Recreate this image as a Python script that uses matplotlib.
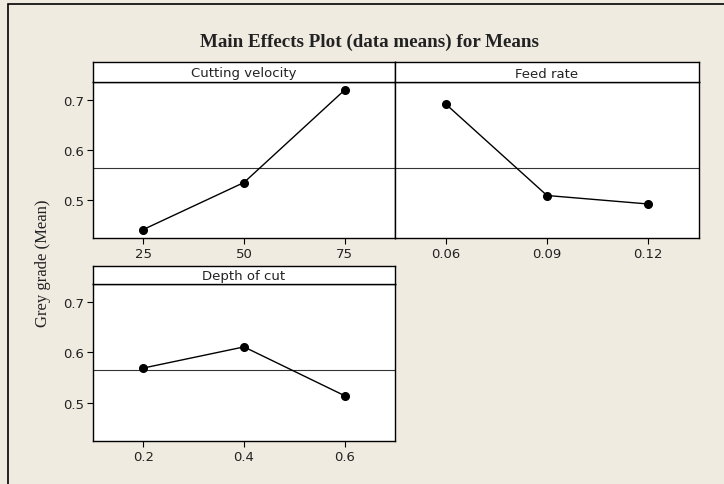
import matplotlib
matplotlib.use("Agg")
import matplotlib.pyplot as plt
from matplotlib.patches import Rectangle

W, H = 724, 485

title = "Main Effects Plot (data means) for Means"
ylabel = "Grey grade (Mean)"
factors = ["Cutting velocity", "Feed rate", "Depth of cut"]
levels = [["25", "50", "75"], ["0.06", "0.09", "0.12"], ["0.2", "0.4", "0.6"]]
means = [[0.441, 0.535, 0.720],
         [0.692, 0.509, 0.492],
         [0.569, 0.611, 0.514]]
grand_mean = 0.5645
yticks = [0.5, 0.6, 0.7]
ylim = (0.424, 0.736)

bg = "#EFEBE1"
fig = plt.figure(figsize=(W / 100, H / 100), dpi=100, facecolor=bg)

def px(x0, y0, x1, y1):
    return [x0 / W, 1 - y1 / H, (x1 - x0) / W, (y1 - y0) / H]

# outer border (left & top visible)
fig.add_artist(Rectangle((8 / W, -0.1), 1.2, 1 - 5 / H + 0.1, transform=fig.transFigure,
                         fill=False, edgecolor="black", linewidth=1.2))

panels = [((93, 63, 83, 395, 239), True),
          ((395, 63, 83, 699, 239), False),
          ((93, 267, 285, 395, 442), True)]

tickfont = dict(family="DejaVu Sans", size=9.5, color="#222222")

for i, ((x0, ys, y0, x1, y1), showy) in enumerate(panels):
    ax = fig.add_axes(px(x0, y0, x1, y1))
    ax.set_facecolor("white")
    xs = list(range(len(levels[i])))
    ax.axhline(grand_mean, color="#333333", linewidth=0.8, zorder=1)
    ax.plot(xs, means[i], color="black", linewidth=1.0, marker="o", markersize=5.5, zorder=3)
    ax.set_xlim(-0.5, len(xs) - 0.5)
    ax.set_ylim(*ylim)
    ax.set_xticks(xs)
    ax.set_xticklabels(levels[i], fontdict=tickfont)
    if showy:
        ax.set_yticks(yticks)
        ax.set_yticklabels([f"{v:.1f}" for v in yticks], fontdict=tickfont)
    else:
        ax.set_yticks([])
    ax.tick_params(direction="out", length=4, width=0.8, pad=2.5)
    for s in ax.spines.values():
        s.set_linewidth(1.0)
    # strip
    sx = fig.add_axes(px(x0, ys, x1, y0))
    sx.set_facecolor("white")
    sx.set_xticks([]); sx.set_yticks([])
    for s in sx.spines.values():
        s.set_linewidth(1.0)
    sx.text(0.5, 0.45, factors[i], ha="center", va="center", transform=sx.transAxes,
            fontsize=9.5, family="DejaVu Sans", color="#222222")

fig.text(370 / W, 1 - 42 / H, title, ha="center", va="center", fontsize=13.7,
         fontweight="bold", family="Liberation Serif", color="#222222")
fig.text(43 / W, 1 - 263 / H, ylabel, ha="center", va="center", rotation=90,
         fontsize=12, family="Liberation Serif", color="#222222")

fig.savefig("out.png", dpi=100, facecolor=bg)
